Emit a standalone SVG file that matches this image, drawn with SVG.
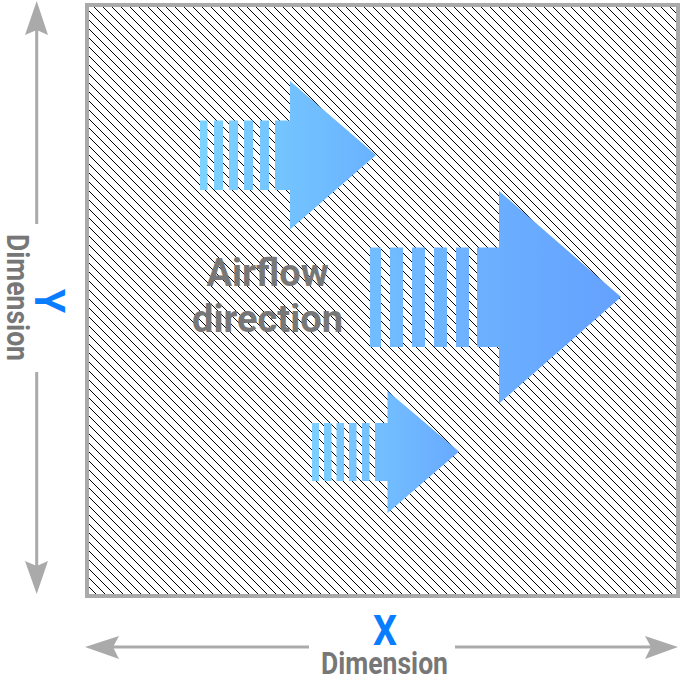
<svg xmlns="http://www.w3.org/2000/svg" width="690" height="684" viewBox="0 0 690 684">
<style>
.dim{fill:none;stroke:#aaa;stroke-width:3}
.head{fill:#aaa}
.lab{font-family:Roboto,"Liberation Sans",sans-serif;font-weight:700;fill:#777}
.axis{font-family:Roboto,"Liberation Sans",sans-serif;font-weight:700;fill:#0a7dff}
</style>
<defs>
<pattern id="hatch" width="9" height="9" patternUnits="userSpaceOnUse" patternTransform="translate(94 7)">
<path d="M-1 -1L10 10M-10 -1L1 10M8 -1L19 10" stroke="#000" stroke-width="1" fill="none" shape-rendering="crispEdges"/>
</pattern>
<linearGradient id="g1" gradientUnits="userSpaceOnUse" x1="200" y1="0" x2="376" y2="0"><stop offset="0" stop-color="#7dd3ff"/><stop offset="1" stop-color="#69b2ff"/></linearGradient>
<linearGradient id="g2" gradientUnits="userSpaceOnUse" x1="370" y1="0" x2="621" y2="0"><stop offset="0" stop-color="#72bdff"/><stop offset="1" stop-color="#64a1ff"/></linearGradient>
<linearGradient id="g3" gradientUnits="userSpaceOnUse" x1="312" y1="0" x2="459" y2="0"><stop offset="0" stop-color="#7cd0ff"/><stop offset="1" stop-color="#68aaff"/></linearGradient>
</defs>
<g id="frame"><rect x="87" y="5" width="591" height="591" fill="#fff"/><rect x="87" y="5" width="591" height="591" fill="url(#hatch)" stroke="#aaa" stroke-width="4"/></g>
<g id="connectors">
<path class="dim" d="M36.700 30V224M36.700 372V566M113 647H309M455 647H651"/>
<path class="head" d="M36.700 1L48 35L36.700 30L25 35Z"/>
<path class="head" d="M36.700 594L48 561L36.700 566L25 561Z"/>
<path class="head" d="M85 647L119 636L113 647L119 659Z"/>
<path class="head" d="M678 647L645 636L651 647L645 659Z"/>
</g>
<g id="arrow1" fill="url(#g1)">
<rect x="200" y="120.500" width="7.500" height="69.500"/><rect x="214" y="120.500" width="9" height="69.500"/><rect x="229" y="120.500" width="9" height="69.500"/><rect x="244" y="120.500" width="9" height="69.500"/><rect x="260" y="120.500" width="9" height="69.500"/>
<path d="M275 120.500H290V81L376 155L290 229.500V190H275Z"/>
</g>
<g id="arrow2" fill="url(#g2)">
<rect x="370" y="247.500" width="11" height="99.500"/><rect x="390" y="247.500" width="13" height="99.500"/><rect x="412" y="247.500" width="13" height="99.500"/><rect x="434" y="247.500" width="13" height="99.500"/><rect x="456" y="247.500" width="13" height="99.500"/>
<path d="M477 247.500H499V191L621 297L499 403.500V347H477Z"/>
</g>
<g id="arrow3" fill="url(#g3)">
<rect x="312" y="423" width="7" height="58"/><rect x="324" y="423" width="7.500" height="58"/><rect x="336.500" y="423" width="7.500" height="58"/><rect x="349" y="423" width="7.500" height="58"/><rect x="362" y="423" width="7.500" height="58"/>
<path d="M375 423H387.500V391L459 451.500L387.500 513V481H375Z"/>
</g>
<g id="labels">
<text class="lab" x="267.500" y="286" font-size="38" text-anchor="middle">Airflow</text>
<text class="lab" x="267.500" y="332" font-size="38" text-anchor="middle">direction</text>
<text class="axis" x="385" y="645" font-size="42" text-anchor="middle" textLength="24" lengthAdjust="spacingAndGlyphs">X</text>
<text class="lab" x="384.500" y="674" font-size="32" text-anchor="middle" textLength="127" lengthAdjust="spacingAndGlyphs">Dimension</text>
<text class="axis" transform="translate(35 301) rotate(90)" font-size="42" text-anchor="middle" textLength="24" lengthAdjust="spacingAndGlyphs">Y</text>
<text class="lab" transform="translate(7 297.500) rotate(90)" font-size="32" text-anchor="middle" textLength="127" lengthAdjust="spacingAndGlyphs">Dimension</text>
</g>
</svg>
